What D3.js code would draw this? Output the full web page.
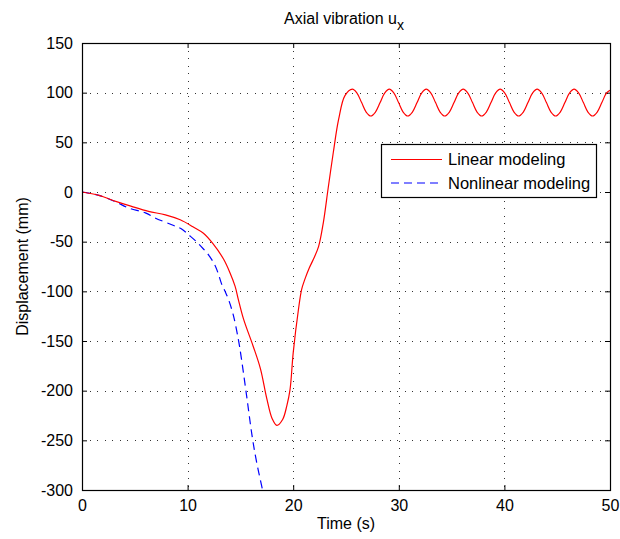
<!DOCTYPE html>
<html>
<head>
<meta charset="utf-8">
<script src="https://cdn.jsdelivr.net/npm/d3@7"></script>
<style>
  body { margin: 0; background: #fff; }
  svg { font-family: "Liberation Sans", Arial, sans-serif; }
  .grid line { stroke: #333; stroke-dasharray: 1,6.5; shape-rendering: crispEdges; }
</style>
</head>
<body>
<div id="chart"></div>
<script>
// time (s), displacement (mm)
var linearT = [0, 1.6, 3.2, 4.7, 6.3, 7.9, 9.3, 10.5, 11.5, 12.4, 13.4, 14.0, 14.5, 14.8, 15.3, 16.2, 16.9, 17.5, 18.0, 18.45, 19.0, 19.4, 19.7, 20.0, 20.5, 20.8, 21.1, 21.5, 21.9, 22.4, 22.85, 23.3, 23.8, 24.3, 24.9,
  25.6, 26.04, 26.48, 26.91, 27.35, 27.79, 28.23, 28.66,
  29.1, 29.54, 29.98, 30.41, 30.85, 31.29, 31.73, 32.16,
  32.6, 33.04, 33.48, 33.91, 34.35, 34.79, 35.23, 35.66,
  36.1, 36.54, 36.98, 37.41, 37.85, 38.29, 38.73, 39.16,
  39.6, 40.04, 40.48, 40.91, 41.35, 41.79, 42.23, 42.66,
  43.1, 43.54, 43.98, 44.41, 44.85, 45.29, 45.73, 46.16,
  46.6, 47.04, 47.48, 47.91, 48.35, 48.79, 49.23, 49.66, 50];
var linearU = [0, -3.4, -9.4, -14.5, -19.5, -23, -28, -35, -41.5, -52, -67.5, -81, -95, -108, -128, -155, -178, -208, -228, -235, -229, -215, -199, -162, -118, -98, -88, -77, -68, -55, -31, 3, 40, 73, 97,
  103.5, 99.5, 90, 80.5, 76.5, 80.5, 90, 99.5,
  103.5, 99.5, 90, 80.5, 76.5, 80.5, 90, 99.5,
  103.5, 99.5, 90, 80.5, 76.5, 80.5, 90, 99.5,
  103.5, 99.5, 90, 80.5, 76.5, 80.5, 90, 99.5,
  103.5, 99.5, 90, 80.5, 76.5, 80.5, 90, 99.5,
  103.5, 99.5, 90, 80.5, 76.5, 80.5, 90, 99.5,
  103.5, 99.5, 90, 80.5, 76.5, 80.5, 90, 99.5, 102.5];

var nonlinearT = [0, 1.6, 3.2, 4.4, 6.0, 6.9, 8.5, 9.4, 10.2, 10.9, 11.5, 12.1, 12.6, 12.9, 13.2, 13.55, 13.9, 14.33, 14.8, 15.1, 15.6, 16.1, 16.5, 17.1];
var nonlinearU = [0, -3.4, -10, -16, -21, -26, -33, -37, -44, -50.6, -57.4, -65, -74, -82, -92, -100, -109, -124, -148, -168, -206, -245, -270, -300];

var xTicks = [0, 10, 20, 30, 40, 50];
var yTicks = [150, 100, 50, 0, -50, -100, -150, -200, -250, -300];
var legendLabels = ["Linear modeling", "Nonlinear modeling"];

var W = 620, H = 539;
var margin = {top: 43, right: 10, bottom: 49, left: 82};
var width = W - margin.left - margin.right,
    height = H - margin.top - margin.bottom;

var svg = d3.select("#chart").append("svg")
    .attr("width", W)
    .attr("height", H);

var x = d3.scaleLinear().domain([0, 50]).range([0, width]);
var y = d3.scaleLinear().domain([-300, 150]).range([height, 0]);

var g = svg.append("g")
    .attr("transform", "translate(" + margin.left + "," + margin.top + ")");

// dotted grid
var grid = g.append("g").attr("class", "grid");
grid.selectAll(".gx").data(xTicks.slice(1, -1)).enter().append("line")
    .attr("x1", function(d) { return Math.round(x(d)) + 0.5; })
    .attr("x2", function(d) { return Math.round(x(d)) + 0.5; })
    .attr("y1", 0).attr("y2", height);
grid.selectAll(".gy").data(yTicks.slice(1, -1)).enter().append("line")
    .attr("y1", function(d) { return Math.round(y(d)) + 0.5; })
    .attr("y2", function(d) { return Math.round(y(d)) + 0.5; })
    .attr("x1", 0).attr("x2", width);

// axes, ticks pointing inward on all four sides
var plain = function(d) { return String(d); };   // hyphen minus, like the original
function styleAxis(sel) {
    sel.select(".domain").remove();
    sel.selectAll("line").attr("stroke", "#000");
    sel.selectAll("text").attr("font-size", 16).attr("fill", "#000");
}
g.append("g")
    .attr("transform", "translate(0," + height + ")")
    .call(d3.axisBottom(x).tickValues(xTicks).tickFormat(plain).tickSizeInner(-5).tickSizeOuter(0).tickPadding(10))
    .call(styleAxis);
g.append("g")
    .call(d3.axisLeft(y).tickValues(yTicks).tickFormat(plain).tickSizeInner(-5).tickSizeOuter(0).tickPadding(9))
    .call(styleAxis);
g.append("g")
    .call(d3.axisTop(x).tickValues(xTicks).tickSizeInner(-5).tickSizeOuter(0).tickFormat(""))
    .call(styleAxis);
g.append("g")
    .attr("transform", "translate(" + width + ",0)")
    .call(d3.axisRight(y).tickValues(yTicks).tickSizeInner(-5).tickSizeOuter(0).tickFormat(""))
    .call(styleAxis);

g.append("defs").append("clipPath").attr("id", "clip")
  .append("rect").attr("width", width).attr("height", height);

var line = d3.line()
    .x(function(d) { return x(d[0]); })
    .y(function(d) { return y(d[1]); })
    .curve(d3.curveCatmullRom.alpha(0.5));

var plot = g.append("g").attr("clip-path", "url(#clip)");
plot.append("path")
    .datum(d3.zip(nonlinearT, nonlinearU))
    .attr("fill", "none")
    .attr("stroke", "#0000ff")
    .attr("stroke-width", 1.2)
    .attr("stroke-dasharray", "8,5")
    .attr("d", line);
plot.append("path")
    .datum(d3.zip(linearT, linearU))
    .attr("fill", "none")
    .attr("stroke", "#ff0000")
    .attr("stroke-width", 1.2)
    .attr("d", line);

// frame
g.append("rect")
    .attr("x", 0.5).attr("y", 0.5)
    .attr("width", width).attr("height", height)
    .attr("fill", "none").attr("stroke", "#000").attr("stroke-width", 1.2);

// legend
var lg = svg.append("g").attr("transform", "translate(381,144)");
lg.append("rect")
    .attr("x", 0.5).attr("y", 0.5)
    .attr("width", 215).attr("height", 53)
    .attr("fill", "#fff").attr("stroke", "#000").attr("stroke-width", 1.2);
var styles = [{c: "#ff0000", dash: null}, {c: "#0000ff", dash: "8,5"}];
legendLabels.forEach(function(lab, i) {
    var yy = 15.5 + i * 23.5;
    lg.append("line")
        .attr("x1", 10).attr("x2", 61)
        .attr("y1", yy).attr("y2", yy)
        .attr("stroke", styles[i].c)
        .attr("stroke-width", 1.2)
        .attr("stroke-dasharray", styles[i].dash);
    lg.append("text")
        .attr("x", 67).attr("y", yy)
        .attr("dy", "0.35em")
        .attr("font-size", 16.5)
        .text(lab);
});

// titles
var title = svg.append("text")
    .attr("x", margin.left + width / 2 - 2)
    .attr("y", 24)
    .attr("text-anchor", "middle")
    .attr("font-size", 16)
    .text("Axial vibration u");
title.append("tspan").attr("dy", 6).attr("font-size", 14).text("x");

svg.append("text")
    .attr("x", margin.left + width / 2)
    .attr("y", 529)
    .attr("text-anchor", "middle")
    .attr("font-size", 16)
    .text("Time (s)");

svg.append("text")
    .attr("transform", "translate(28," + (margin.top + height / 2) + ") rotate(-90)")
    .attr("text-anchor", "middle")
    .attr("font-size", 16)
    .text("Displacement (mm)");
</script>
</body>
</html>
